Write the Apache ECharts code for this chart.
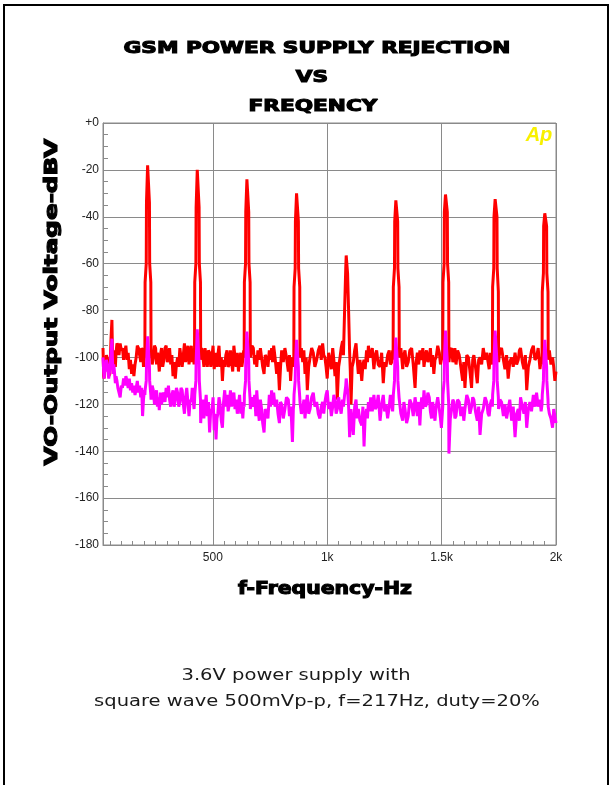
<!DOCTYPE html>
<html>
<head>
<meta charset="utf-8">
<script src="https://cdn.jsdelivr.net/npm/echarts@6/dist/echarts.min.js"></script>
<style>
  html, body { margin: 0; padding: 0; background: #fff; }
  #chart { width: 611px; height: 785px; }
</style>
</head>
<body>
<div id="chart"></div>
<script>
// sweep frequencies (Hz), shared by both traces
const freqHz = [
  20, 23, 25, 28, 30, 35, 40, 45, 50, 55,
  59, 61, 64, 67, 70, 74, 77, 81, 85, 90,
  95, 100, 105, 110, 115, 120, 125, 130, 135, 140,
  145, 150, 155, 160, 165, 170, 175, 180, 185, 189,
  193, 197, 201, 203, 204, 209, 210, 215, 218, 223,
  224, 229, 230, 235, 240, 245, 250, 254, 258, 262,
  266, 271, 276, 281, 286, 291, 296, 301, 306, 311,
  316, 321, 326, 331, 336, 341, 346, 351, 356, 361,
  366, 371, 376, 381, 386, 391, 396, 401, 406, 410,
  414, 418, 420, 421, 426, 427, 432, 435, 440, 441,
  446, 447, 451, 456, 461, 466, 471, 476, 481, 486,
  491, 496, 501, 506, 510, 514, 518, 522, 527, 532,
  537, 542, 547, 552, 557, 562, 567, 572, 577, 582,
  587, 592, 597, 602, 607, 612, 617, 622, 627, 631,
  635, 637, 638, 643, 644, 649, 652, 657, 658, 663,
  664, 671, 677, 683, 688, 692, 697, 703, 708, 713,
  718, 724, 729, 735, 741, 747, 752, 757, 761, 766,
  772, 779, 785, 791, 796, 801, 808, 815, 822, 830,
  835, 840, 844, 848, 852, 854, 855, 860, 861, 866,
  869, 874, 875, 880, 881, 887, 893, 898, 903, 908,
  913, 919, 925, 932, 939, 946, 954, 961, 968, 974,
  980, 985, 990, 995, 1000, 1006, 1012, 1018, 1024, 1029,
  1034, 1039, 1044, 1050, 1056, 1061, 1067, 1071, 1076, 1081,
  1083, 1086, 1089, 1094, 1098, 1101, 1104, 1109, 1114, 1120,
  1126, 1131, 1136, 1143, 1151, 1156, 1161, 1166, 1172, 1176,
  1180, 1185, 1190, 1197, 1204, 1210, 1216, 1223, 1231, 1238,
  1245, 1251, 1257, 1264, 1271, 1276, 1282, 1286, 1288, 1289,
  1294, 1295, 1300, 1303, 1308, 1309, 1314, 1315, 1322, 1330,
  1335, 1340, 1347, 1354, 1361, 1369, 1376, 1384, 1389, 1394,
  1400, 1405, 1409, 1413, 1418, 1423, 1429, 1434, 1440, 1446,
  1451, 1456, 1461, 1466, 1471, 1476, 1483, 1490, 1495, 1499,
  1505, 1506, 1511, 1512, 1517, 1520, 1525, 1526, 1531, 1532,
  1538, 1544, 1549, 1554, 1558, 1563, 1570, 1577, 1584, 1592,
  1597, 1602, 1610, 1617, 1624, 1631, 1636, 1641, 1648, 1656,
  1662, 1668, 1675, 1682, 1690, 1697, 1703, 1708, 1713, 1718,
  1722, 1723, 1728, 1729, 1734, 1737, 1742, 1743, 1748, 1749,
  1755, 1762, 1770, 1777, 1784, 1791, 1798, 1806, 1813, 1821,
  1828, 1835, 1840, 1845, 1853, 1860, 1866, 1872, 1879, 1886,
  1893, 1901, 1908, 1915, 1922, 1930, 1935, 1939, 1940, 1945,
  1946, 1951, 1954, 1959, 1960, 1965, 1966, 1971, 1978, 1985,
  1990, 1995, 2000
];

// red trace (dBV)
const redDbV = [
  -96, -108, -109, -101, -104, -99, -101, -108, -107, -92,
  -84, -96, -104, -97, -100, -104, -98, -94, -95, -99,
  -94, -97, -96, -101, -98, -95, -101, -98, -105, -101,
  -107, -103, -108, -103, -100, -95, -96, -99, -102, -96,
  -97, -104, -100, -98, -68, -60, -34, -18, -18.5, -34,
  -60, -68, -97, -103, -100, -95, -96, -103, -98, -101,
  -106, -99, -96, -104, -101, -96, -95, -102, -100, -96,
  -103, -99, -108, -102, -109, -103, -100, -104, -96, -100,
  -104, -99, -94, -102, -99, -95, -103, -98, -95, -102,
  -97, -103, -99, -68, -60, -36, -20, -20.5, -36, -60,
  -68, -101, -96, -99, -104, -96, -100, -104, -97, -98,
  -104, -100, -95, -105, -101, -98, -104, -99, -95, -104,
  -100, -110, -101, -104, -99, -97, -104, -103, -97, -102,
  -106, -95, -100, -104, -98, -106, -101, -98, -104, -101,
  -97, -100, -68, -60, -38, -24, -24.5, -38, -60, -68,
  -100, -95, -96, -103, -99, -104, -97, -101, -96, -100,
  -104, -107, -99, -100, -104, -97, -101, -96, -102, -95,
  -100, -107, -102, -114, -104, -97, -102, -96, -100, -106,
  -99, -110, -103, -100, -104, -100, -70, -62, -42, -30,
  -30.5, -42, -62, -70, -100, -96, -102, -97, -107, -100,
  -114, -104, -100, -96, -98, -104, -101, -97, -95, -101,
  -94, -99, -100, -104, -109, -98, -101, -105, -96, -101,
  -108, -102, -118, -104, -100, -96, -93, -99, -80, -62,
  -56.5, -57, -64, -82, -98, -106, -120, -104, -102, -97,
  -94, -101, -107, -101, -110, -103, -101, -105, -97, -102,
  -95, -99, -100, -96, -105, -99, -97, -103, -104, -98,
  -111, -102, -104, -99, -97, -103, -102, -97, -101, -70,
  -62, -42, -33, -33.5, -42, -62, -70, -100, -96, -105,
  -99, -97, -104, -102, -97, -96, -103, -113, -102, -98,
  -103, -97, -101, -100, -96, -104, -99, -97, -102, -100,
  -96, -104, -99, -107, -101, -100, -95, -98, -103, -101,
  -100, -68, -60, -38, -30.5, -31, -38, -60, -68, -102,
  -97, -96, -102, -100, -96, -103, -97, -99, -104, -110,
  -102, -113, -99, -100, -106, -113, -101, -99, -104, -111,
  -101, -100, -103, -96, -101, -98, -102, -105, -98, -101,
  -103, -70, -62, -40, -32.5, -33, -40, -62, -72, -102,
  -97, -96, -101, -105, -99, -109, -102, -100, -104, -98,
  -103, -101, -97, -96, -102, -105, -99, -114, -104, -101,
  -97, -95, -101, -100, -96, -105, -101, -103, -72, -64,
  -44, -38.5, -39, -44, -64, -72, -101, -97, -103, -100,
  -104, -110, -106
];

// magenta trace (dBV)
const magentaDbV = [
  -100, -106, -109, -103, -106, -101, -104, -109, -105, -98,
  -92, -100, -107, -103, -106, -111, -108, -110, -113, -115,
  -117, -112, -113, -109, -112, -108, -110, -113, -109, -114,
  -111, -115, -112, -116, -113, -110, -115, -112, -117, -113,
  -125, -118, -114, -116, -114, -110, -104, -91, -91, -104,
  -110, -116, -118, -112, -114, -120, -118, -114, -121, -117,
  -122.5, -115, -120, -116, -115, -119, -113, -117, -112, -118,
  -121, -116, -114, -121, -118, -113, -115, -121, -119, -113,
  -114, -120, -124, -117, -113, -119, -125, -118, -119, -113,
  -118, -122, -119, -116, -110, -102, -88, -88, -102, -110,
  -118, -128, -120, -118, -126, -121, -116, -125, -119, -132,
  -122, -123, -117, -131, -124, -135, -126, -124, -117, -120,
  -127, -130, -119, -114, -121, -116, -123, -120, -114, -121,
  -117, -115, -122, -118, -124, -120, -116, -124, -119, -126,
  -120, -121, -116, -110, -102, -89, -89, -102, -110, -118,
  -122, -117, -121, -116, -125, -114, -121, -127, -118, -122,
  -128, -132, -122, -122, -126, -116, -121, -114, -120, -115,
  -121, -118, -124, -128, -119, -120, -126, -122, -117, -118,
  -125, -121, -127, -136, -122, -120, -116, -110, -104, -92.5,
  -92.5, -104, -110, -117, -119, -124, -122, -118, -126, -120,
  -116, -124, -122, -117, -115, -121, -119, -124, -126, -121,
  -119, -124, -119, -116, -114, -122, -119, -125, -121, -116,
  -118, -124, -122, -117, -121, -124, -118, -121, -116, -112,
  -109, -109, -114, -122, -134, -124, -122, -128, -133, -121,
  -118, -126, -122, -127, -129, -121, -138, -125, -122, -126,
  -119, -123, -117, -123, -116, -122, -121, -116, -127, -120,
  -116, -123, -120, -126, -121, -116, -120, -123, -119, -116,
  -110, -104, -91.5, -91.5, -104, -110, -117, -118, -124, -127,
  -119, -122, -128, -125, -118, -120, -125, -117, -121, -125,
  -119, -129, -121, -117, -122, -114, -121, -120, -115, -117,
  -123, -126, -119, -123, -127, -121, -117, -122, -126, -130,
  -121, -116, -110, -102, -88.5, -88.5, -102, -110, -120, -141,
  -126, -122, -118, -119, -126, -125, -118, -119, -125, -121,
  -127, -122, -116, -118, -124, -121, -117, -118, -123, -127,
  -121, -133, -124, -122, -117, -119, -124, -125, -120, -118,
  -121, -116, -110, -102, -88.5, -88.5, -102, -110, -117, -122,
  -118, -119, -125, -120, -126, -122, -118, -127, -121, -134,
  -124, -122, -127, -117, -121, -124, -119, -130, -122, -119,
  -123, -116, -121, -115, -121, -118, -123, -120, -116, -110,
  -104, -92.5, -92.5, -104, -110, -118, -121, -124, -126, -130,
  -122, -122, -128
];

// axis ticks
const xLabelHz = [500, 1000, 1500, 2000];
const xGridHz = [20, 500, 1000, 1500, 2000];
const xMinorTickHz = [
  50, 100, 150, 200, 250, 300, 350, 400, 450, 500,
  550, 600, 650, 700, 750, 800, 850, 900, 950, 1000,
  1050, 1100, 1150, 1200, 1250, 1300, 1350, 1400, 1450, 1500,
  1550, 1600, 1650, 1700, 1750, 1800, 1850, 1900, 1950
];
const yMinorTickDb = [
  -175, -170, -165, -160, -155, -150, -145, -140, -135, -130,
  -125, -120, -115, -110, -105, -100, -95, -90, -85, -80,
  -75, -70, -65, -60, -55, -50, -45, -40, -35, -30,
  -25, -20, -15, -10, -5
];

const gridColor = "#8a8a8a";
const heavy = '"DejaVu Sans"';

const chart = echarts.init(document.getElementById("chart"));
chart.setOption({
  animation: false,
  backgroundColor: "#fff",
  grid: {
    left: 103, top: 123, right: 55, bottom: 240,
    show: true, borderColor: gridColor, borderWidth: 1
  },
  xAxis: [
    {
      type: "value", min: 20, max: 2000,
      axisLine: { show: true, onZero: false, lineStyle: { color: gridColor } },
      axisTick: { show: false, customValues: xGridHz },
      axisLabel: {
        customValues: xLabelHz,
        color: "#222", fontSize: 12, fontFamily: "Liberation Sans", margin: 7,
        formatter: v => (v >= 1000 ? v / 1000 + "k" : String(v))
      },
      splitLine: { show: true, lineStyle: { color: gridColor, width: 1 } }
    },
    {
      // minor ticks every 50 Hz
      type: "value", min: 20, max: 2000, position: "bottom",
      axisLine: { show: false, onZero: false },
      axisLabel: { show: false },
      splitLine: { show: false },
      axisTick: { show: true, inside: true, length: 4, customValues: xMinorTickHz, lineStyle: { color: gridColor } }
    }
  ],
  yAxis: [
    {
      type: "value", min: -180, max: 0, interval: 20,
      axisLine: { show: true, onZero: false, lineStyle: { color: gridColor } },
      axisTick: { show: false },
      axisLabel: {
        color: "#222", fontSize: 12, fontFamily: "Liberation Sans", margin: 4,
        formatter: v => (v === 0 ? "+0" : String(v))
      },
      splitLine: { show: true, lineStyle: { color: gridColor, width: 1 } }
    },
    {
      // minor ticks every 5 dB
      type: "value", min: -180, max: 0, position: "left",
      axisLine: { show: false, onZero: false },
      axisLabel: { show: false },
      splitLine: { show: false },
      axisTick: { show: true, inside: true, length: 5, customValues: yMinorTickDb, lineStyle: { color: gridColor } }
    }
  ],
  series: [
    {
      type: "line",
      data: freqHz.map((f, i) => [f, redDbV[i]]),
      showSymbol: false,
      lineStyle: { color: "#ff0000", width: 3, join: "bevel" },
      itemStyle: { color: "#ff0000" },
      z: 2
    },
    {
      type: "line",
      data: freqHz.map((f, i) => [f, magentaDbV[i]]),
      showSymbol: false,
      lineStyle: { color: "#ff00ff", width: 3, join: "bevel" },
      itemStyle: { color: "#ff00ff" },
      z: 3
    }
  ],
  graphic: [
    // page frame
    {
      type: "rect", silent: true,
      shape: { x: 4, y: 5, width: 604, height: 800 },
      style: { fill: "none", stroke: "#000", lineWidth: 2 }
    },
    // title
    {
      type: "text", x: 317, y: 49, scaleX: 1.35,
      style: { text: "GSM POWER SUPPLY REJECTION", font: "bold 16px " + heavy, fill: "#000", stroke: "#000", lineWidth: 1.1, align: "center", verticalAlign: "middle" }
    },
    {
      type: "text", x: 312, y: 78, scaleX: 1.35,
      style: { text: "VS", font: "bold 16px " + heavy, fill: "#000", stroke: "#000", lineWidth: 1.1, align: "center", verticalAlign: "middle" }
    },
    {
      type: "text", x: 313, y: 107, scaleX: 1.35,
      style: { text: "FREQENCY", font: "bold 16px " + heavy, fill: "#000", stroke: "#000", lineWidth: 1.1, align: "center", verticalAlign: "middle" }
    },
    // axis names
    {
      type: "text", x: 53, y: 302, rotation: Math.PI / 2, scaleX: 1.45,
      style: { text: "VO-Output Voltage-dBV", font: "bold 17px " + heavy, fill: "#000", stroke: "#000", lineWidth: 1.1, align: "center", verticalAlign: "middle" }
    },
    {
      type: "text", x: 325, y: 590, scaleX: 1.2,
      style: { text: "f-Frequency-Hz", font: "bold 17px " + heavy, fill: "#000", stroke: "#000", lineWidth: 1.1, align: "center", verticalAlign: "middle" }
    },
    // analyzer logo
    {
      type: "text", x: 539, y: 135,
      style: { text: "Ap", font: "italic bold 20px 'Liberation Sans'", fill: "#f8f000", align: "center", verticalAlign: "middle" }
    },
    // caption
    {
      type: "text", x: 296, y: 676, scaleX: 1.22,
      style: { text: "3.6V power supply with", font: "16px " + heavy, fill: "#1a1a1a", align: "center", verticalAlign: "middle" }
    },
    {
      type: "text", x: 317, y: 702, scaleX: 1.22,
      style: { text: "square wave 500mVp-p, f=217Hz, duty=20%", font: "16px " + heavy, fill: "#1a1a1a", align: "center", verticalAlign: "middle" }
    }
  ]
});
</script>
</body>
</html>
